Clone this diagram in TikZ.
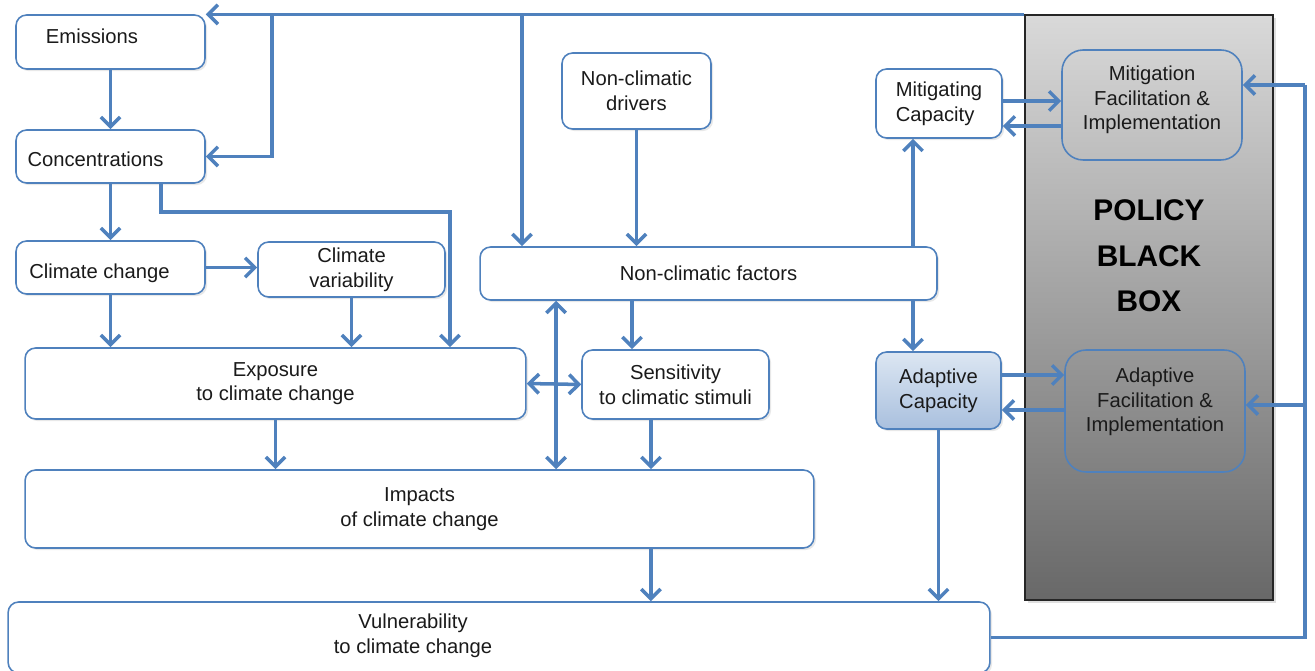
\documentclass[tikz,border=0pt]{standalone}
\usepackage{fontspec}
\setmainfont{Liberation Sans}
\usetikzlibrary{arrows.meta, shadows}
\definecolor{linkblue}{HTML}{4F81BD}
\definecolor{boxtext}{HTML}{1A1A1A}
\definecolor{policytop}{HTML}{D9D9D9}
\definecolor{policybot}{HTML}{686868}
\definecolor{adtop}{HTML}{DCE6F2}
\definecolor{adbot}{HTML}{A9C0DE}

\begin{document}
\begin{tikzpicture}[x = 0.02cm, y = -0.02cm,
		box/.style = {draw = linkblue, line width = 0.9pt, rounded corners = 6pt, fill = white, drop shadow = {opacity = 0.18, shadow xshift = 1.2pt, shadow yshift = -1.2pt}, align = center, font = \fontsize{11.5}{14}\selectfont, text = boxtext, inner sep = 0pt},
		txt/.style = {align = center, font = \fontsize{11.5}{14}\selectfont, text = boxtext, inner sep = 0pt},
		fibox/.style = {draw = linkblue, line width = 0.9pt, rounded corners = 12pt, inner sep = 0pt},
		conn/.style = {draw = linkblue, line width = 2pt, -{Straight Barb[length = 5.5pt, width = 11pt]}},
		both/.style = {conn, {Straight Barb[length = 5.5pt, width = 11pt]}-{Straight Barb[length = 5.5pt, width = 11pt]}},
		link/.style = {draw = linkblue, line width = 2pt}]
			\useasboundingbox (0, 0) rectangle (1315, 671);
			\node[draw = black!85, line width = 0.7pt, top color = policytop, bottom color = policybot, minimum width = 4.96cm, minimum height = 11.70cm, drop shadow = {opacity = 0.25, shadow xshift = 1.5pt, shadow yshift = -1.5pt}, label = {[align = center, font = \fontsize{17}{26}\selectfont\bfseries, text = black, yshift = 1.03cm]center:POLICY\\BLACK\\BOX}] (policy) at (1149, 307.5) {};
			\node[fibox, minimum width = 3.60cm, minimum height = 2.20cm, label = {[txt, yshift = 0.1cm]center:{Mitigation\\Facilitation \&\\Implementation}}] (mfi) at (1152, 105) {};
			\node[fibox, minimum width = 3.60cm, minimum height = 2.44cm, label = {[txt, yshift = 0.18cm]center:{Adaptive\\Facilitation \&\\Implementation}}] (afi) at (1155, 411) {};

			\node[box, minimum width = 3.78cm, minimum height = 1.08cm, label = {[txt, xshift = -0.37cm, yshift = 0.12cm]center:Emissions}] (emis) at (110.5, 42) {};
			\node[box, minimum width = 3.78cm, minimum height = 1.06cm, label = {[txt, xshift = -0.3cm, yshift = -0.05cm]center:Concentrations}] (conc) at (110.5, 156.5) {};
			\node[box, minimum width = 3.78cm, minimum height = 1.06cm, label = {[txt, xshift = -0.22cm, yshift = -0.11cm]center:Climate change}] (cc) at (110.5, 267.5) {};
			\node[box, minimum width = 3.74cm, minimum height = 1.10cm] (cv) at (351.5, 269.5) {Climate\\variability};
			\node[box, minimum width = 10.02cm, minimum height = 1.42cm] (expo) at (275.5, 383.5) {Exposure\\to climate change};
			\node[box, minimum width = 15.78cm, minimum height = 1.56cm] (imp) at (419.5, 509) {Impacts\\of climate change};
			\node[box, minimum width = 19.64cm, minimum height = 1.42cm, label = {[txt, xshift = -1.72cm, yshift = 0.04cm]center:{Vulnerability\\to climate change}}] (vul) at (499, 637.5) {};
			\node[box, minimum width = 2.98cm, minimum height = 1.52cm] (ncd) at (636.5, 91) {Non-climatic\\drivers};
			\node[box, minimum width = 9.14cm, minimum height = 1.06cm] (ncf) at (708.5, 273.5) {Non-climatic factors};
			\node[box, minimum width = 3.74cm, minimum height = 1.38cm] (sens) at (675.5, 384.5) {Sensitivity\\to climatic stimuli};
			\node[box, align = left, minimum width = 2.52cm, minimum height = 1.38cm] (mitcap) at (939, 103.5) {Mitigating\\Capacity};
			\node[box, align = left, top color = adtop, bottom color = adbot, minimum width = 2.50cm, minimum height = 1.54cm] (adcap) at (938.5, 390.5) {Adaptive\\Capacity};

			\coordinate (j1) at (272, 15);
			\coordinate (j2) at (522, 15);
			\coordinate (k) at (450, 212);
			\coordinate (rtop) at (1305, 85);
			\coordinate (rmid) at (1305, 405);

			\draw[conn] (policy.north west) -- (policy.north west -| emis.east);
			\draw[conn] (j1) |- (conc.east);
			\draw[conn] (j2) -- (j2 |- ncf.north);
			\draw[conn] (emis) -- (conc);
			\draw[conn] (conc) -- (cc);
			\draw[conn] ([xshift = -0.9cm]conc.south east) |- (k) -- (k |- expo.north);
			\draw[conn] (cc.east) -- (cc.east -| cv.west);
			\draw[conn] (cc) -- (cc |- expo.north);
			\draw[conn] (cv) -- (cv |- expo.north);
			\draw[conn] (expo) -- (expo |- imp.north);
			\draw[conn] ([xshift = -0.49cm]sens.south) -- ([xshift = -0.49cm]sens.south |- imp.north);
			\draw[conn] ([xshift = 4.63cm]imp.south) -- ([xshift = 4.63cm]imp.south |- vul.north);
			\draw[conn] ([xshift = -0.87cm]sens.north |- ncf.south) -- ([xshift = -0.87cm]sens.north);
			\draw[both] ([xshift = -3.05cm]ncf.south) -- ([xshift = -3.05cm]ncf.south |- imp.north);
			\draw[both] (expo.east) -- (sens.west);
			\draw[conn] (ncd) -- (ncd |- ncf.north);
			\draw[conn] ([xshift = -0.52cm]mitcap.south |- ncf.north) -- ([xshift = -0.52cm]mitcap.south);
			\draw[conn] ([xshift = -0.51cm]adcap.north |- ncf.south) -- ([xshift = -0.51cm]adcap.north);
			\draw[conn] (adcap) -- (adcap |- vul.north);
			\draw[conn] ([yshift = 0.05cm]mitcap.east) -- ([yshift = 0.05cm]mitcap.east -| mfi.west);
			\draw[conn] ([yshift = -0.45cm]mitcap.east -| mfi.west) -- ([yshift = -0.45cm]mitcap.east);
			\draw[conn] ([yshift = 0.31cm]adcap.east) -- ([yshift = 0.31cm]adcap.east -| afi.west);
			\draw[conn] ([yshift = -0.39cm]adcap.east -| afi.west) -- ([yshift = -0.39cm]adcap.east);
			\draw[link] (vul.east) -| (rtop);
			\draw[conn] (rtop) -- (rtop -| mfi.east);
			\draw[conn] (rmid) -- (rmid -| afi.east);
		\end{tikzpicture}
\end{document}
